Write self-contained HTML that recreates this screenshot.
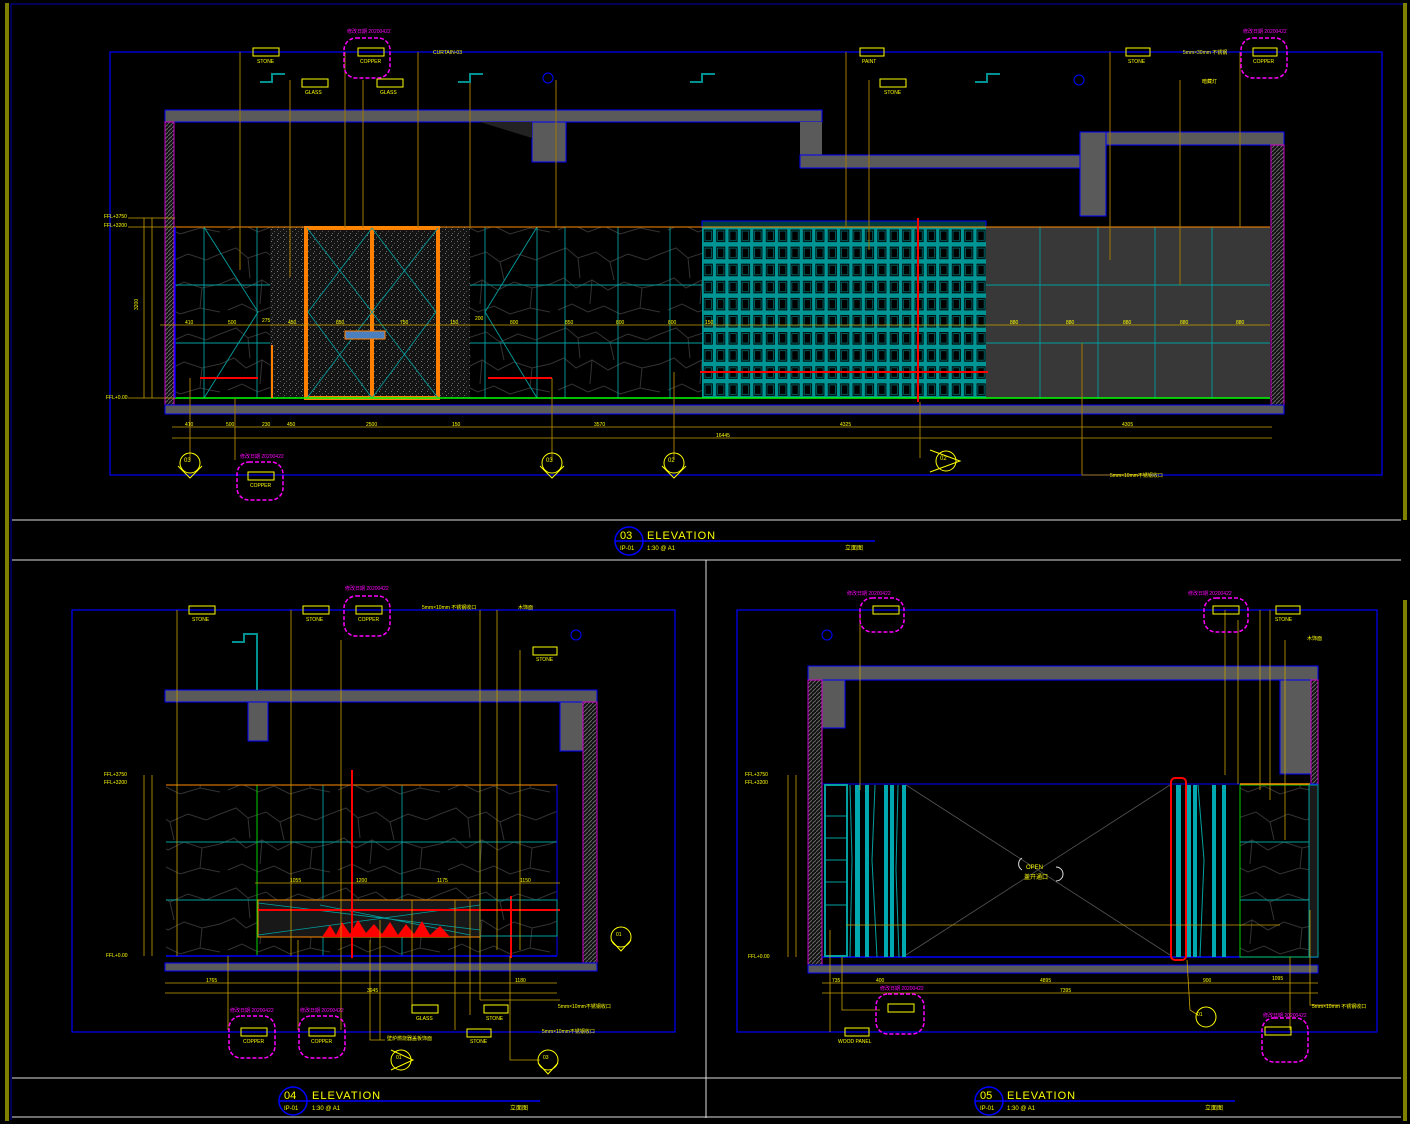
<!DOCTYPE html>
<html><head><meta charset="utf-8"><style>
html,body{margin:0;padding:0;background:#000;}
svg{display:block;}
text{font-family:"Liberation Sans","Noto Sans CJK SC",sans-serif;}
</style></head><body>
<svg width="1410" height="1124" viewBox="0 0 1410 1124" xmlns="http://www.w3.org/2000/svg">
<defs>
<pattern id="stone" width="110" height="80" patternUnits="userSpaceOnUse">
<path d="M0 14 L16 8 L28 18 L46 12 L60 22 L78 14 L96 20 L110 14 M0 44 L14 38 L26 48 L42 40 L58 50 L74 42 L92 48 L110 44 M8 70 L22 64 L38 72 L54 66 L70 74 L90 68 L110 72 M28 18 L30 38 M60 22 L64 40 M42 40 L40 64 M92 48 L90 68" stroke="#333" stroke-width="1" fill="none"/>
</pattern>
<pattern id="dots" width="6" height="6" patternUnits="userSpaceOnUse">
<rect width="6" height="6" fill="#141414"/><rect x="1" y="1" width="1" height="1" fill="#777"/><rect x="4" y="3" width="1" height="1" fill="#555"/><rect x="2" y="5" width="1" height="1" fill="#666"/>
</pattern>
<pattern id="hatch" width="4" height="4" patternUnits="userSpaceOnUse">
<rect width="4" height="4" fill="#111"/><path d="M0 4 L4 0" stroke="#666" stroke-width="1"/>
</pattern>
<pattern id="blocks" x="702" y="227" width="12.4" height="17.1" patternUnits="userSpaceOnUse">
<rect width="12.4" height="17.1" fill="#009595"/><rect x="1.8" y="2.5" width="9" height="12.5" fill="#000"/><rect x="3" y="4" width="6.5" height="9.5" fill="none" stroke="#007070" stroke-width="0.8"/>
</pattern>
</defs>

<rect x="5" y="3" width="4" height="1118" fill="#808000"/>
<rect x="1403" y="3" width="4" height="517" fill="#808000"/>
<rect x="1403" y="600" width="4" height="521" fill="#808000"/>
<line x1="11" y1="4" x2="1403" y2="4" stroke="#0000b0" stroke-width="1"/>
<line x1="11" y1="4" x2="11" y2="1120" stroke="#0000b0" stroke-width="1"/>
<line x1="12" y1="520" x2="1401" y2="520" stroke="#ddd" stroke-width="1"/>
<line x1="12" y1="560" x2="1401" y2="560" stroke="#ddd" stroke-width="1"/>
<line x1="706" y1="560" x2="706" y2="1118" stroke="#ddd" stroke-width="1"/>
<line x1="12" y1="1078" x2="1401" y2="1078" stroke="#ddd" stroke-width="1"/>
<line x1="12" y1="1117" x2="1401" y2="1117" stroke="#ddd" stroke-width="1"/>

<!-- PANEL 03 -->
<rect x="110" y="52" width="1272" height="423" fill="none" stroke="#0000ff" stroke-width="1.2"/>
<rect x="165" y="110" width="657" height="12" fill="#5a5a5a" stroke="#0000ff"/>
<rect x="532" y="122" width="34" height="40" fill="#5a5a5a" stroke="#0000ff"/>
<path d="M480 122 L532 138 L532 122 Z" fill="#222"/>
<rect x="800" y="122" width="22" height="34" fill="#5a5a5a"/>
<rect x="800" y="155" width="282" height="13" fill="#5a5a5a" stroke="#0000ff"/>
<rect x="1080" y="132" width="26" height="84" fill="#5a5a5a" stroke="#0000ff"/>
<rect x="1106" y="132" width="178" height="13" fill="#5a5a5a" stroke="#0000ff"/>
<rect x="165" y="122" width="9" height="288" fill="url(#hatch)" stroke="#cc00cc"/>
<rect x="1271" y="145" width="13" height="265" fill="url(#hatch)" stroke="#cc00cc"/>
<rect x="165" y="405" width="1119" height="9" fill="#5a5a5a" stroke="#0000ff"/>
<rect x="175" y="227" width="95" height="171" fill="url(#stone)"/>
<rect x="270" y="227" width="36" height="171" fill="url(#dots)"/>
<rect x="438" y="227" width="32" height="171" fill="url(#dots)"/>
<rect x="470" y="227" width="232" height="171" fill="url(#stone)"/>
<rect x="306" y="228" width="132" height="170" fill="url(#dots)" stroke="#ff7f00" stroke-width="4"/>
<line x1="372" y1="228" x2="372" y2="398" stroke="#ff7f00" stroke-width="4"/>
<path d="M307 228 L372 312 L307 398 M438 228 L372 312 L438 398 M372 228 L308 312 L372 398 M372 228 L436 312 L372 398" stroke="#00a0a0" fill="none" stroke-width="0.8"/>
<rect x="345" y="331" width="40" height="8" fill="#4a7fc0" stroke="#ff7f00"/>
<g stroke="#00a0a0" stroke-width="0.9" fill="none">
<line x1="175" y1="285" x2="270" y2="285"/><line x1="175" y1="343" x2="270" y2="343"/>
<line x1="204" y1="227" x2="204" y2="398"/><line x1="257" y1="227" x2="257" y2="398"/>
<path d="M204 227 L258 312 L204 398"/>
<line x1="470" y1="285" x2="702" y2="285"/><line x1="470" y1="343" x2="702" y2="343"/>
<line x1="485" y1="227" x2="485" y2="398"/><line x1="537" y1="227" x2="537" y2="398"/><line x1="565" y1="227" x2="565" y2="398"/><line x1="618" y1="227" x2="618" y2="398"/><line x1="670" y1="227" x2="670" y2="398"/>
<path d="M537 227 L485 312 L537 398"/>
</g>
<rect x="702" y="221" width="284" height="7" fill="#003c3c" stroke="#0000ff"/>
<rect x="702" y="227" width="284" height="171" fill="url(#blocks)"/>
<rect x="986" y="227" width="284" height="171" fill="#383838"/>
<g stroke="#00a0a0" stroke-width="0.9"><line x1="1040" y1="227" x2="1040" y2="398"/><line x1="1098" y1="227" x2="1098" y2="398"/><line x1="1155" y1="227" x2="1155" y2="398"/><line x1="1212" y1="227" x2="1212" y2="398"/><line x1="986" y1="285" x2="1270" y2="285"/><line x1="986" y1="343" x2="1270" y2="343"/></g>
<line x1="175" y1="227" x2="1270" y2="227" stroke="#ff8c00" stroke-width="1"/>
<line x1="175" y1="398" x2="1270" y2="398" stroke="#00ff00" stroke-width="1.5"/>
<line x1="175" y1="227" x2="175" y2="398" stroke="#0000ff" stroke-width="1.5"/>
<line x1="918" y1="218" x2="918" y2="402" stroke="#ff0000" stroke-width="2"/>
<line x1="700" y1="372" x2="988" y2="372" stroke="#ff0000" stroke-width="2"/>
<line x1="200" y1="378" x2="258" y2="378" stroke="#ff0000" stroke-width="2"/>
<line x1="488" y1="378" x2="552" y2="378" stroke="#ff0000" stroke-width="2"/>
<line x1="272" y1="345" x2="272" y2="398" stroke="#ff7f00" stroke-width="2"/>
<g stroke="#c8a000" stroke-width="0.8">
<line x1="160" y1="325" x2="1270" y2="325"/>
<line x1="172" y1="427" x2="1272" y2="427"/>
<line x1="172" y1="438" x2="1272" y2="438"/>
<line x1="144" y1="218" x2="144" y2="398"/><line x1="152" y1="218" x2="152" y2="398"/>
<line x1="128" y1="218" x2="175" y2="218"/><line x1="128" y1="227" x2="175" y2="227"/><line x1="128" y1="398" x2="175" y2="398"/>
</g>
<g fill="#ffff00" font-size="5">
<text x="185" y="324">410</text><text x="228" y="324">500</text><text x="262" y="322">275</text><text x="288" y="324">450</text><text x="336" y="324">850</text><text x="400" y="324">750</text><text x="450" y="324">150</text><text x="475" y="320">200</text><text x="510" y="324">800</text><text x="565" y="324">850</text><text x="616" y="324">800</text><text x="668" y="324">800</text><text x="705" y="324">150</text>
<text x="1010" y="324">880</text><text x="1066" y="324">880</text><text x="1123" y="324">880</text><text x="1180" y="324">880</text><text x="1236" y="324">880</text>
<text x="185" y="426">410</text><text x="226" y="426">500</text><text x="262" y="426">230</text><text x="287" y="426">450</text><text x="366" y="426">2500</text><text x="452" y="426">150</text><text x="594" y="426">3570</text><text x="840" y="426">4325</text><text x="1122" y="426">4305</text>
<text x="716" y="437">16445</text>
<text x="104" y="218">FFL+3750</text><text x="104" y="227">FFL+3200</text><text x="106" y="399">FFL+0.00</text>
<text x="138" y="310" transform="rotate(-90 138 310)">3200</text>
</g>
<g stroke="#a07800" stroke-width="1" fill="none">
<path d="M240 52 L240 270"/><path d="M290 80 L290 277"/><path d="M345 52 L345 228"/><path d="M363 80 L363 228"/><path d="M418 52 L418 228"/><path d="M470 80 L470 228"/><path d="M556 80 L556 228"/>
<path d="M846 52 L846 228"/><path d="M869 80 L869 250"/><path d="M1110 52 L1110 260"/><path d="M1180 80 L1180 285"/><path d="M1240 52 L1240 228"/>
<path d="M1082 343 L1082 475 L1150 475"/><path d="M235 398 L235 460"/><path d="M190 378 L190 460"/><path d="M552 378 L552 460"/><path d="M674 372 L674 460"/><path d="M920 402 L920 458"/>
</g>
<g stroke="#009090" stroke-width="2" fill="none">
<path d="M260 82 L272 82 L272 74 L285 74"/><path d="M458 82 L470 82 L470 74 L483 74"/><path d="M690 82 L702 82 L702 74 L715 74"/><path d="M975 82 L987 82 L987 74 L1000 74"/>
</g>
<g fill="none" stroke="#ffff00" stroke-width="1">
<rect x="253" y="48" width="26" height="8"/><rect x="302" y="79" width="26" height="8"/><rect x="358" y="48" width="26" height="8"/><rect x="377" y="79" width="26" height="8"/><rect x="860" y="48" width="24" height="8"/><rect x="880" y="79" width="26" height="8"/><rect x="1126" y="48" width="24" height="8"/><rect x="1253" y="48" width="24" height="8"/><rect x="248" y="472" width="26" height="8"/>
</g>
<g fill="#ffff00" font-size="5">
<text x="257" y="63">STONE</text><text x="305" y="94">GLASS</text><text x="360" y="63">COPPER</text><text x="380" y="94">GLASS</text><text x="433" y="54">CURTAIN-03</text><text x="862" y="63">PAINT</text><text x="884" y="94">STONE</text><text x="1128" y="63">STONE</text><text x="1183" y="54">5mm×30mm 不锈钢</text><text x="1202" y="83">暗藏灯</text><text x="1253" y="63">COPPER</text><text x="250" y="487">COPPER</text><text x="1110" y="477">5mm×10mm不锈钢收口</text>
</g>
<g fill="none" stroke="#ff00ff" stroke-width="1.5">
<rect x="344" y="38" width="46" height="40" rx="12" stroke-dasharray="4 2"/>
<rect x="1241" y="38" width="46" height="40" rx="12" stroke-dasharray="4 2"/>
<rect x="237" y="462" width="46" height="38" rx="12" stroke-dasharray="4 2"/>
</g>
<g fill="#ff00ff" font-size="5"><text x="347" y="33">修改日期 20200422</text><text x="1243" y="33">修改日期 20200422</text><text x="240" y="458">修改日期 20200422</text></g>
<g fill="none" stroke="#0000ff"><circle cx="548" cy="78" r="5"/><circle cx="1079" cy="80" r="5"/></g>
<g fill="none" stroke="#ffff00" stroke-width="1">
<circle cx="190" cy="463" r="10"/><path d="M178 466 L190 478 L202 466"/>
<circle cx="552" cy="463" r="10"/><path d="M540 466 L552 478 L564 466"/>
<circle cx="674" cy="463" r="10"/><path d="M662 466 L674 478 L686 466"/>
<circle cx="946" cy="461" r="10"/><path d="M930 450 L960 461 L930 472"/>
</g>
<g fill="#ffff00" font-size="6"><text x="184" y="462">03</text><text x="546" y="462">03</text><text x="668" y="462">02</text><text x="940" y="460">02</text></g>
<circle cx="629" cy="541" r="14" fill="none" stroke="#0000ff" stroke-width="1.5"/>
<line x1="615" y1="541" x2="875" y2="541" stroke="#0000ff" stroke-width="1.5"/>
<text x="620" y="539" fill="#ffff00" font-size="11">03</text>
<text x="647" y="539" fill="#ffff00" font-size="11" letter-spacing="1">ELEVATION</text>
<text x="620" y="550" fill="#ffff00" font-size="6">IP-01</text>
<text x="647" y="550" fill="#ffff00" font-size="6">1:30 @ A1</text>
<text x="845" y="550" fill="#ffff00" font-size="6">立面图</text>

<!-- PANEL 04 -->
<rect x="72" y="610" width="603" height="422" fill="none" stroke="#0000ff" stroke-width="1.2"/>
<rect x="165" y="690" width="432" height="12" fill="#5a5a5a" stroke="#0000ff"/>
<rect x="248" y="702" width="20" height="39" fill="#5a5a5a" stroke="#0000ff"/>
<rect x="560" y="702" width="32" height="49" fill="#5a5a5a" stroke="#0000ff"/>
<rect x="583" y="702" width="14" height="268" fill="url(#hatch)" stroke="#cc00cc"/>
<rect x="165" y="963" width="432" height="8" fill="#5a5a5a" stroke="#0000ff"/>
<rect x="166" y="785" width="391" height="171" fill="url(#stone)"/>
<g stroke="#00a0a0" stroke-width="0.9">
<line x1="166" y1="842" x2="557" y2="842"/><line x1="166" y1="900" x2="557" y2="900"/>
<line x1="323" y1="785" x2="323" y2="956"/><line x1="402" y1="785" x2="402" y2="956"/><line x1="480" y1="785" x2="480" y2="956"/>
</g>
<line x1="257" y1="785" x2="257" y2="956" stroke="#00cc00"/>
<line x1="166" y1="785" x2="557" y2="785" stroke="#ff8c00"/>
<line x1="166" y1="956" x2="557" y2="956" stroke="#0000ff" stroke-width="1.5"/>
<line x1="557" y1="785" x2="557" y2="956" stroke="#0000ff"/>
<rect x="258" y="900" width="222" height="37" fill="#181818" stroke="#ff8c00"/>
<path d="M258 903 L480 930 M258 935 L480 905 M320 905 L470 935" stroke="#00a0a0" stroke-width="0.8"/>
<path d="M322 937 L330 925 L336 935 L342 922 L350 934 L358 920 L366 933 L374 924 L382 934 L390 922 L398 935 L406 924 L414 934 L422 921 L430 935 L440 926 L450 937 Z" fill="#ff0000"/>
<line x1="258" y1="910" x2="560" y2="910" stroke="#ff0000" stroke-width="2"/>
<line x1="352" y1="770" x2="352" y2="958" stroke="#ff0000" stroke-width="2"/>
<line x1="511" y1="896" x2="511" y2="958" stroke="#ff0000" stroke-width="2"/>
<rect x="480" y="900" width="77" height="36" fill="none" stroke="#00a0a0"/>
<g stroke="#c8a000" stroke-width="0.8" fill="none">
<line x1="165" y1="983" x2="557" y2="983"/><line x1="165" y1="993" x2="557" y2="993"/><line x1="255" y1="883" x2="560" y2="883"/>
<line x1="144" y1="775" x2="144" y2="956"/><line x1="152" y1="775" x2="152" y2="956"/>
<path d="M177 610 L177 956"/><path d="M291 610 L291 956"/><path d="M341 640 L341 1030"/><path d="M480 610 L480 1000"/><path d="M497 610 L497 950"/><path d="M520 650 L520 950"/><path d="M228 956 L228 1030"/><path d="M298 940 L298 1030"/><path d="M370 940 L370 1040 L385 1040"/><path d="M412 900 L412 1008"/><path d="M455 900 L455 1030"/><path d="M470 900 L470 1015"/><path d="M510 956 L510 1060 L540 1060"/><path d="M480 1000 L560 1000"/><path d="M380 920 L380 1040"/>
</g>
<path d="M232 642 L244 642 L244 634 L257 634 L257 690" stroke="#009090" stroke-width="2" fill="none"/>
<g fill="none" stroke="#ffff00"><rect x="189" y="606" width="26" height="8"/><rect x="303" y="606" width="26" height="8"/><rect x="356" y="606" width="26" height="8"/><rect x="533" y="647" width="24" height="8"/><rect x="412" y="1005" width="26" height="8"/><rect x="484" y="1005" width="24" height="8"/><rect x="467" y="1029" width="24" height="8"/><rect x="241" y="1028" width="26" height="8"/><rect x="309" y="1028" width="26" height="8"/>
<circle cx="401" cy="1060" r="10"/><path d="M391 1050 L413 1060 L391 1070"/><circle cx="548" cy="1060" r="10"/><path d="M538 1063 L548 1074 L558 1063"/><circle cx="621" cy="937" r="10"/><path d="M611 940 L621 951 L631 940"/></g>
<g fill="#ffff00" font-size="5"><text x="192" y="621">STONE</text><text x="306" y="621">STONE</text><text x="358" y="621">COPPER</text><text x="422" y="609">5mm×10mm 不锈钢收口</text><text x="518" y="609">木饰面</text><text x="536" y="661">STONE</text><text x="416" y="1020">GLASS</text><text x="486" y="1020">STONE</text><text x="470" y="1043">STONE</text><text x="387" y="1040">壁炉燃烧器盖板饰面</text><text x="558" y="1008">5mm×10mm不锈钢收口</text><text x="542" y="1033">5mm×10mm不锈钢收口</text><text x="243" y="1043">COPPER</text><text x="311" y="1043">COPPER</text>
<text x="206" y="982">1765</text><text x="367" y="992">3945</text><text x="515" y="982">1180</text><text x="290" y="882">1055</text><text x="356" y="882">1200</text><text x="437" y="882">1175</text><text x="520" y="882">1150</text>
<text x="104" y="776">FFL+3750</text><text x="104" y="784">FFL+3200</text><text x="106" y="957">FFL+0.00</text>
<text x="396" y="1059">01</text><text x="543" y="1059">03</text><text x="616" y="936">01</text></g>
<g fill="none" stroke="#ff00ff" stroke-width="1.5" stroke-dasharray="4 2"><rect x="344" y="596" width="46" height="40" rx="12"/><rect x="229" y="1016" width="46" height="42" rx="12"/><rect x="299" y="1016" width="46" height="42" rx="12"/></g>
<g fill="#ff00ff" font-size="5"><text x="345" y="590">修改日期 20200422</text><text x="230" y="1012">修改日期 20200422</text><text x="300" y="1012">修改日期 20200422</text></g>
<circle cx="576" cy="635" r="5" fill="none" stroke="#0000ff"/>
<circle cx="293" cy="1101" r="14" fill="none" stroke="#0000ff" stroke-width="1.5"/>
<line x1="280" y1="1101" x2="540" y2="1101" stroke="#0000ff" stroke-width="1.5"/>
<text x="284" y="1099" fill="#ffff00" font-size="11">04</text>
<text x="312" y="1099" fill="#ffff00" font-size="11" letter-spacing="1">ELEVATION</text>
<text x="284" y="1110" fill="#ffff00" font-size="6">IP-01</text><text x="312" y="1110" fill="#ffff00" font-size="6">1:30 @ A1</text><text x="510" y="1110" fill="#ffff00" font-size="6">立面图</text>

<!-- PANEL 05 -->
<rect x="737" y="610" width="640" height="422" fill="none" stroke="#0000ff" stroke-width="1.2"/>
<rect x="808" y="666" width="510" height="14" fill="#5a5a5a" stroke="#0000ff"/>
<rect x="811" y="680" width="34" height="48" fill="#5a5a5a" stroke="#0000ff"/>
<rect x="1280" y="680" width="31" height="94" fill="#5a5a5a" stroke="#0000ff"/>
<rect x="808" y="680" width="14" height="290" fill="url(#hatch)" stroke="#cc00cc"/>
<rect x="1311" y="680" width="7" height="104" fill="url(#hatch)" stroke="#cc00cc"/>
<rect x="808" y="965" width="510" height="8" fill="#5a5a5a" stroke="#0000ff"/>
<line x1="822" y1="784" x2="1318" y2="784" stroke="#0000ff"/>
<line x1="822" y1="957" x2="1318" y2="957" stroke="#0000ff" stroke-width="1.5"/>
<path d="M906 785 L1170 955 M906 955 L1170 785" stroke="#555" stroke-width="0.8"/>
<rect x="825" y="785" width="22" height="171" fill="none" stroke="#00a0a0" stroke-width="2"/>
<g stroke="#00a0a0"><line x1="825" y1="816" x2="847" y2="816"/><line x1="825" y1="838" x2="847" y2="838"/><line x1="825" y1="860" x2="847" y2="860"/><line x1="825" y1="882" x2="847" y2="882"/><line x1="825" y1="905" x2="847" y2="905"/></g>
<g fill="#00a8b0">
<rect x="855" y="785" width="5" height="172"/><rect x="865" y="785" width="4" height="172"/><rect x="884" y="785" width="4" height="172"/><rect x="890" y="785" width="4" height="172"/><rect x="902" y="785" width="4" height="172"/>
<rect x="1176" y="785" width="5" height="172"/><rect x="1187" y="785" width="4" height="172"/><rect x="1193" y="785" width="4" height="172"/><rect x="1212" y="785" width="4" height="172"/><rect x="1222" y="785" width="4" height="172"/>
</g>
<g stroke="#00a0a0" fill="none"><path d="M850 785 L852 860 L850 957"/><path d="M875 785 L872 860 L877 957"/><path d="M898 785 L896 870 L899 957"/><path d="M1198 785 L1204 860 L1200 957"/></g>
<rect x="1171" y="778" width="15" height="182" rx="4" fill="none" stroke="#ff0000" stroke-width="2"/>
<rect x="1240" y="785" width="70" height="172" fill="url(#stone)" stroke="#00cc00"/>
<g stroke="#00a0a0"><line x1="1240" y1="842" x2="1310" y2="842"/><line x1="1240" y1="900" x2="1310" y2="900"/></g>
<line x1="1240" y1="784" x2="1310" y2="784" stroke="#ff8c00" stroke-width="1.5"/>
<rect x="1309" y="785" width="9" height="172" fill="#1a1a1a" stroke="#00a0a0"/>
<g fill="none" stroke="#ddd"><path d="M1022 870 A7 7 0 0 1 1022 858"/><path d="M1056 867 A7 7 0 0 1 1056 881"/></g>
<g fill="#ffff00" font-size="6"><text x="1026" y="869">OPEN</text><text x="1024" y="879">盖开通口</text></g>
<g stroke="#c8a000" stroke-width="0.8" fill="none">
<line x1="822" y1="983" x2="1318" y2="983"/><line x1="822" y1="993" x2="1318" y2="993"/><line x1="846" y1="925" x2="1280" y2="925"/>
<line x1="788" y1="775" x2="788" y2="957"/><line x1="796" y1="775" x2="796" y2="957"/>
<path d="M860 610 L860 790"/><path d="M1225 610 L1225 775"/><path d="M1238 620 L1238 784"/><path d="M1260 610 L1260 790"/><path d="M1270 610 L1270 800"/><path d="M1285 640 L1285 840"/><path d="M830 930 L830 1032"/><path d="M842 957 L842 1010 L880 1010"/><path d="M1187 960 L1190 1010 L1198 1015"/><path d="M1290 957 L1290 1030"/><path d="M1310 910 L1310 1005 L1340 1005"/>
</g>
<g fill="#ffff00" font-size="5"><text x="745" y="776">FFL+3750</text><text x="745" y="784">FFL+3200</text><text x="748" y="958">FFL+0.00</text>
<text x="832" y="982">735</text><text x="876" y="982">400</text><text x="1040" y="982">4895</text><text x="1203" y="982">900</text><text x="1272" y="980">1095</text><text x="1060" y="992">7395</text>
<text x="1275" y="621">STONE</text><text x="1307" y="640">木饰面</text><text x="1312" y="1008">5mm×10mm 不锈钢收口</text><text x="838" y="1043">WOOD PANEL</text>
<text x="1197" y="1016">01</text></g>
<g fill="none" stroke="#ffff00"><rect x="873" y="606" width="26" height="8"/><rect x="1213" y="606" width="26" height="8"/><rect x="1276" y="606" width="24" height="8"/><rect x="888" y="1004" width="26" height="8"/><rect x="845" y="1028" width="24" height="8"/><rect x="1265" y="1027" width="26" height="8"/><circle cx="1206" cy="1017" r="10"/></g>
<g fill="none" stroke="#ff00ff" stroke-width="1.5" stroke-dasharray="4 2"><rect x="860" y="598" width="44" height="34" rx="12"/><rect x="1204" y="598" width="44" height="34" rx="12"/><rect x="876" y="994" width="48" height="40" rx="12"/><rect x="1262" y="1018" width="46" height="44" rx="12"/></g>
<g fill="#ff00ff" font-size="5"><text x="847" y="595">修改日期 20200422</text><text x="1188" y="595">修改日期 20200422</text><text x="880" y="990">修改日期 20200422</text><text x="1263" y="1017">修改日期 20200422</text></g>
<circle cx="827" cy="635" r="5" fill="none" stroke="#0000ff"/>
<circle cx="989" cy="1101" r="14" fill="none" stroke="#0000ff" stroke-width="1.5"/>
<line x1="975" y1="1101" x2="1235" y2="1101" stroke="#0000ff" stroke-width="1.5"/>
<text x="980" y="1099" fill="#ffff00" font-size="11">05</text>
<text x="1007" y="1099" fill="#ffff00" font-size="11" letter-spacing="1">ELEVATION</text>
<text x="980" y="1110" fill="#ffff00" font-size="6">IP-01</text><text x="1007" y="1110" fill="#ffff00" font-size="6">1:30 @ A1</text><text x="1205" y="1110" fill="#ffff00" font-size="6">立面图</text>
</svg>
</body></html>
